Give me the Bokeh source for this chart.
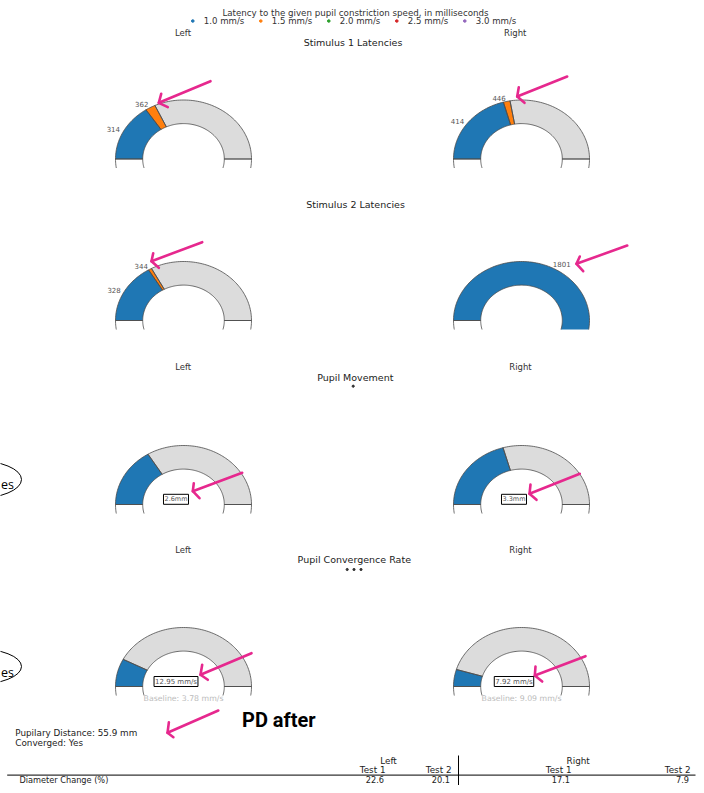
import math
import numpy as np
from bokeh.plotting import figure
from bokeh.models import Range1d, Label
from bokeh.embed import file_html
from bokeh.resources import INLINE

# ---------------- data ----------------
title_text = "Latency to the given pupil constriction speed, in milliseconds"
speeds = ["1.0 mm/s", "1.5 mm/s", "2.0 mm/s", "2.5 mm/s", "3.0 mm/s"]
speed_colors = ["#1f77b4", "#ff7f0e", "#2ca02c", "#d62728", "#9467bd"]
sides = ["Left", "Right"]
section_titles = ["Stimulus 1 Latencies", "Stimulus 2 Latencies", "Pupil Movement", "Pupil Convergence Rate"]
latency_max = 1000
stim1_left = [314, 362]
stim1_right = [414, 446]
stim2_left = [328, 344]
stim2_right = [1801]
movement_mm = [2.6, 3.3]            # left, right
movement_max = 8
convergence_rate = [12.95, 7.92]    # left, right (mm/s)
convergence_baseline = [3.78, 9.09]
convergence_max = 85
pupillary_distance = 55.9
converged = "Yes"
tests = ["Test 1", "Test 2"]
diameter_change = [22.6, 20.1, 17.1, 7.9]   # Left T1, Left T2, Right T1, Right T2
annotation_note = "PD after"
cut_label = "es"

# ---------------- layout ----------------
SCREEN_H = 793
def Y(sy):
    return SCREEN_H - sy

FONT = "DejaVu Sans"
GRAY = "#dcdcdc"
EDGE = "#4a4a4a"
PINK = "#e6288e"
RX, RY, HOLE, CLIP = 68.0, 59.0, 0.6, 9.0
CX = [183, 521]
W, H = 696, 785

p = figure(width=W, height=H, x_range=Range1d(0, W), y_range=Range1d(SCREEN_H - H, SCREEN_H),
           output_backend="svg", toolbar_location=None, title=None,
           x_axis_location=None, y_axis_location=None, min_border=0,
           outline_line_color=None, background_fill_color="white",
           border_fill_color="white")
p.grid.visible = False


def txt(x, sy, s, size=8, color="#333", align="left", weight="normal",
        font=FONT, baseline="middle", **kw):
    p.add_layout(Label(x=x, y=Y(sy), text=s, text_font=font,
                       text_font_size=f"{size}px", text_color=color,
                       text_align=align, text_baseline=baseline,
                       text_font_style=weight, **kw))


def clip_poly(xs, ys, ylim):
    ox, oy = [], []
    n = len(xs)
    for i in range(n):
        x1, y1 = xs[i - 1], ys[i - 1]
        x2, y2 = xs[i], ys[i]
        in1, in2 = y1 >= ylim, y2 >= ylim
        if in2:
            if not in1:
                t = (ylim - y1) / (y2 - y1)
                ox.append(x1 + t * (x2 - x1)); oy.append(ylim)
            ox.append(x2); oy.append(y2)
        elif in1:
            t = (ylim - y1) / (y2 - y1)
            ox.append(x1 + t * (x2 - x1)); oy.append(ylim)
    return ox, oy


def clip_line(xs, ys, ylim):
    segs = []
    cur_x, cur_y = [], []
    for i in range(len(xs)):
        x2, y2 = xs[i], ys[i]
        if i > 0:
            x1, y1 = xs[i - 1], ys[i - 1]
            in1, in2 = y1 >= ylim, y2 >= ylim
            if in1 and not in2:
                t = (ylim - y1) / (y2 - y1)
                cur_x.append(x1 + t * (x2 - x1)); cur_y.append(ylim)
                if len(cur_x) > 1:
                    segs.append((cur_x, cur_y))
                cur_x, cur_y = [], []
            elif in2 and not in1:
                t = (ylim - y1) / (y2 - y1)
                cur_x, cur_y = [x1 + t * (x2 - x1)], [ylim]
        if y2 >= ylim:
            cur_x.append(x2); cur_y.append(y2)
    if len(cur_x) > 1:
        segs.append((cur_x, cur_y))
    return segs


def ring(cx, cy, a0, a1):
    n = max(8, int(abs(a1 - a0) / (2 * math.pi) * 240))
    t = np.linspace(a0, a1, n)
    ox = cx + RX * np.cos(t); oy = cy + RY * np.sin(t)
    ix = cx + RX * HOLE * np.cos(t[::-1]); iy = cy + RY * HOLE * np.sin(t[::-1])
    return list(np.concatenate([ox, ix])), list(np.concatenate([oy, iy]))


fill_xs, fill_ys, fill_cs = [], [], []
edge_xs, edge_ys = [], []


def gauge(cx, sy_base, values, vmax, colors, show_values):
    cy = Y(sy_base)
    ylim = cy - CLIP
    wedges, wcolors = [], []
    prev = 0
    for v, c in zip(values, colors):
        wedges.append(v - prev); wcolors.append(c); prev = v
    rest = max(0, vmax - prev)
    wedges += [rest, vmax]
    wcolors += [GRAY, "white"]
    total = sum(wedges)
    a0 = math.pi
    for k, (w, c) in enumerate(zip(wedges, wcolors)):
        if w <= 0:
            continue
        a1 = a0 - 2 * math.pi * w / total
        xs, ys = ring(cx, cy, a0, a1)
        px, py = clip_poly(xs, ys, ylim)
        if len(px) > 2:
            fill_xs.append(px); fill_ys.append(py); fill_cs.append(c)
        for sx, sy in clip_line(xs + [xs[0]], ys + [ys[0]], ylim):
            edge_xs.append(sx); edge_ys.append(sy)
        if show_values and k < len(values):
            am = (a0 + a1) / 2
            lx = cx + 1.06 * RX * math.cos(am)
            ly = cy + 1.06 * RY * math.sin(am)
            p.add_layout(Label(x=lx, y=ly, text=str(values[k]), text_font=FONT,
                               text_font_size="7px", text_color="#555",
                               text_align="right" if math.cos(am) < 0 else "left",
                               text_baseline="middle"))
        a0 = a1


# latency gauges
gauge(CX[0], 158.5, stim1_left, latency_max, speed_colors, True)
gauge(CX[1], 158.5, stim1_right, latency_max, speed_colors, True)
gauge(CX[0], 320, stim2_left, latency_max, speed_colors, True)
gauge(CX[1], 320, stim2_right, latency_max, speed_colors, True)
# pupil movement
for i in range(2):
    gauge(CX[i], 504, [movement_mm[i]], movement_max, speed_colors, False)
# convergence
for i in range(2):
    gauge(CX[i], 686, [convergence_rate[i]], convergence_max, speed_colors, False)

p.patches(fill_xs, fill_ys, fill_color=fill_cs, line_color=None)
p.multi_line(edge_xs, edge_ys, line_color=EDGE, line_width=0.8)

# partially visible annotation ovals on the left edge
p.ellipse(x=[-25, -25], y=[Y(479), Y(666)], width=[92, 92], height=[38, 36],
          fill_color=None, line_color="black", line_width=1)

# pink hand-drawn arrows (tail, tip, arm1, arm2)
arrows = [
    ((210, 80.7), (158.3, 102.3), (160.7, 93.3), (167.3, 106.7)),
    ((566.7, 76), (516.7, 96), (518.3, 86.7), (524, 102.3)),
    ((201.7, 241.7), (151, 260.7), (152.7, 252.7), (158.3, 267.3)),
    ((626.7, 245), (576, 263.3), (579.3, 256), (582.7, 270.7)),
    ((241.7, 472.3), (192.3, 490.7), (193.3, 482.7), (199, 497.7)),
    ((579.3, 473.3), (529, 493.3), (530, 484), (536, 499.3)),
    ((251, 652.7), (200, 674.3), (201.7, 664.3), (207.3, 679.3)),
    ((585, 655.7), (534.3, 675), (535, 666), (541.7, 681)),
    ((217.8, 710), (167, 732.3), (168.4, 721.7), (172.9, 736.7)),
]
ax, ay = [], []
for tail, tip, a1, a2 in arrows:
    ax.append([tail[0], tip[0]]); ay.append([Y(tail[1]), Y(tip[1])])
    ax.append([a1[0], tip[0], a2[0]]); ay.append([Y(a1[1]), Y(tip[1]), Y(a2[1])])
p.multi_line(ax, ay, line_color=PINK, line_width=2.6, line_cap="round", line_join="round")

# ---------------- texts ----------------
txt(355, 12.3, title_text, size=8.7, color="#333", align="center")
for i, (s, c) in enumerate(zip(speeds, speed_colors)):
    lx = 203.3 + 68 * i
    p.scatter([lx - 11], [Y(20.5)], size=2.6, color=c)
    txt(lx, 20.5, s, size=8.6, color="#333")
txt(182.5, 32.3, sides[0], size=8.5, color="#333", align="center")
txt(514.7, 32.3, sides[1], size=8.5, color="#333", align="center")
txt(352.5, 42.3, section_titles[0], size=9.5, color="#222", align="center")
txt(355, 204, section_titles[1], size=9.5, color="#222", align="center")

txt(182.7, 366, sides[0], size=8.5, color="#333", align="center")
txt(520, 366, sides[1], size=8.5, color="#333", align="center")
txt(354.8, 376.5, section_titles[2], size=9.5, color="#222", align="center")
p.scatter([352.7], [Y(385.7)], size=2.2, color="#333")

txt(182.7, 549, sides[0], size=8.5, color="#333", align="center")
txt(520, 549, sides[1], size=8.5, color="#333", align="center")
txt(353.8, 559.3, section_titles[3], size=9.5, color="#222", align="center")
p.scatter([346.7, 353.5, 360.5], [Y(569)] * 3, size=2.2, color="#333")

# boxed value labels
for i in range(2):
    p.add_layout(Label(x=CX[i] - 7.5, y=Y(498.8), text=f"{movement_mm[i]}mm",
                       text_font=FONT, text_font_size="6.5px", text_color="#555",
                       text_align="center", text_baseline="middle",
                       border_line_color="black", border_line_width=1,
                       background_fill_color="white", padding=1))
    p.add_layout(Label(x=CX[i] - 7.5, y=Y(681), text=f"{convergence_rate[i]} mm/s",
                       text_font=FONT, text_font_size="7px", text_color="#555",
                       text_align="center", text_baseline="middle",
                       border_line_color="black", border_line_width=1,
                       background_fill_color="white", padding=1))
    txt(CX[i], 697.5, f"Baseline: {convergence_baseline[i]} mm/s", size=7.8,
        color="#bbbbbb", align="center")

# cut-off oval texts
txt(0.5, 484, cut_label, size=12.5, color="black", font="Open Sans")
txt(0.5, 671.5, cut_label, size=12.5, color="black", font="Open Sans")

# PD info
txt(14.8, 732.3, f"Pupilary Distance: {pupillary_distance} mm", size=8.8, color="#222")
txt(14.8, 742.3, f"Converged: {converged}", size=8.8, color="#222")
txt(278.3, 719, annotation_note, size=20, color="black", align="center",
    weight="bold", font="Roboto")

# table
p.segment(x0=[6.7], y0=[Y(774.6)], x1=[695], y1=[Y(774.6)], line_color="black", line_width=1)
p.segment(x0=[458], y0=[Y(755)], x1=[458], y1=[Y(792)], line_color="black", line_width=1)
txt(388, 760.5, sides[0], size=8.8, color="#222", align="center")
txt(577.7, 760.5, sides[1], size=8.8, color="#222", align="center")
col_right = [385, 451, 571, 690]
for j in range(4):
    txt(col_right[j], 769.3, tests[j % 2], size=8.8, color="#222", align="right")
    txt(col_right[j] - 1.5, 779.4, f"{diameter_change[j]}", size=8.2, color="#222", align="right")
txt(18.9, 779.4, "Diameter Change (%)", size=8.2, color="#222")

open("out.html", "w").write(file_html(p, INLINE))
